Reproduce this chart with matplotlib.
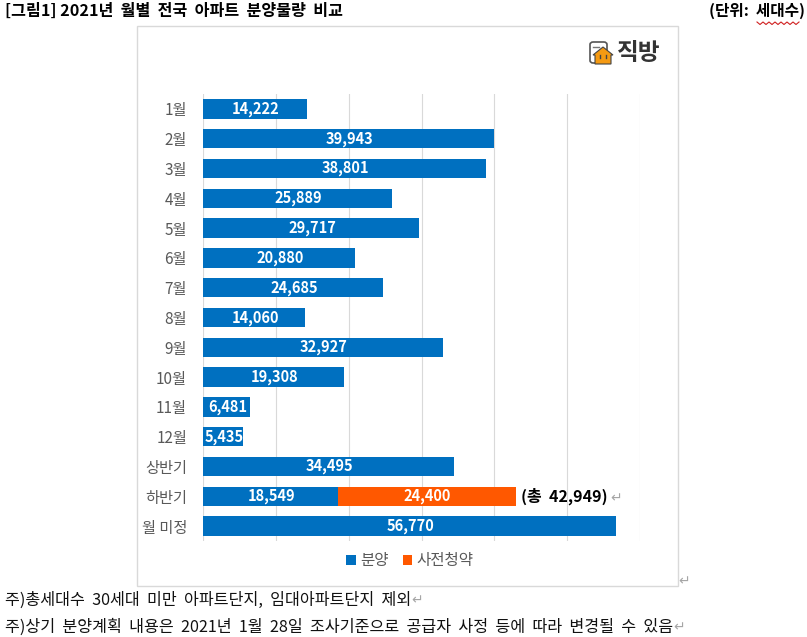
import matplotlib
matplotlib.use("Agg")
import matplotlib.pyplot as plt
from matplotlib.patches import FancyBboxPatch, Polygon, Rectangle

plt.rcParams["font.family"] = ["Noto Sans CJK KR", "DejaVu Sans"]

categories = ["1월", "2월", "3월", "4월", "5월", "6월", "7월", "8월", "9월", "10월",
              "11월", "12월", "상반기", "하반기", "월 미정"]
sale = [14222, 39943, 38801, 25889, 29717, 20880, 24685, 14060, 32927, 19308,
        6481, 5435, 34495, 18549, 56770]
pre_sale = [0, 0, 0, 0, 0, 0, 0, 0, 0, 0, 0, 0, 0, 24400, 0]
x_ticks = [0, 10000, 20000, 30000, 40000, 50000, 60000]
total_second_half = 42949

BLUE = "#0070C0"
ORANGE = "#FF5800"
W, H = 807, 637


def fx(px):
    return px / W


def fy(py):
    return 1 - py / H


fig = plt.figure(figsize=(W / 100, H / 100), dpi=100)

# chart frame, behind the axes
fig.add_artist(Rectangle((fx(137), fy(586)), 541 / W, 560 / H, transform=fig.transFigure,
                         facecolor="white", edgecolor="#D9D9D9", linewidth=1, zorder=-1))

ax = fig.add_axes([fx(203), fy(541), 437 / W, 447 / H])
ax.patch.set_alpha(0)
y = list(range(len(categories)))
ax.barh(y, sale, height=0.65, color=BLUE, label="분양", zorder=3)
ax.barh(y, pre_sale, height=0.65, left=sale, color=ORANGE, label="사전청약", zorder=3)

for i, v in enumerate(sale):
    ax.text(v / 2 + 150, i, f"{v:,}", color="white", fontsize=10.5, fontweight="bold",
            ha="center", va="center", zorder=4)
for i, v in enumerate(pre_sale):
    if v:
        ax.text(sale[i] + v / 2, i, f"{v:,}", color="white", fontsize=10.5, fontweight="bold",
                ha="center", va="center", zorder=4)
ax.text(sale[13] + pre_sale[13] + 650, 13, f"(총  {total_second_half:,})", color="black",
        fontsize=11.5, fontweight="bold", ha="left", va="center", zorder=4)

ax.set_xlim(0, 60000)
ax.set_ylim(len(categories) - 0.5, -0.5)
ax.set_xticks(x_ticks)
ax.set_xticklabels([])
ax.set_yticks(y)
ax.set_yticklabels(categories, fontsize=11, color="#595959")
ax.tick_params(axis="both", length=0, pad=11.5)
ax.grid(axis="x", color="#D9D9D9", linewidth=0.8, zorder=0)
for side in ax.spines:
    ax.spines[side].set_visible(False)

handles, labels = ax.get_legend_handles_labels()
fig.legend(handles, labels, loc="center", bbox_to_anchor=(fx(410), fy(561)), ncol=2, frameon=False,
           fontsize=11.2, labelcolor="#595959", handlelength=0.6, handleheight=0.6,
           handletextpad=0.3, columnspacing=0.9)

# texts around the chart
fig.text(fx(5), fy(11), "[그림1] 2021년  월별  전국  아파트  분양물량  비교", fontsize=11.6,
         fontweight="bold", va="center", ha="left")
fig.text(fx(805), fy(11), "(단위:  세대수)", fontsize=11.3, fontweight="bold", va="center", ha="right")
fig.add_artist(plt.Line2D([fx(757 + i * 3) for i in range(15)],
                          [fy(22 + (i % 2) * 2.5) for i in range(15)],
                          color="#D02020", linewidth=0.8))
fig.text(fx(5), fy(600), "주)총세대수  30세대  미만  아파트단지,  임대아파트단지  제외", fontsize=11.65,
         va="center", ha="left", color="#111111")
fig.text(fx(5), fy(627), "주)상기  분양계획  내용은  2021년  1월  28일  조사기준으로  공급자  사정  등에  따라  변경될  수  있음",
         fontsize=11.65, va="center", ha="left", color="#111111")
for px, py in [(616, 498), (684, 581), (417, 600), (679, 627)]:
    fig.text(fx(px), fy(py), "↵", fontsize=10, color="#A6A6A6", va="center", ha="center",
             family="DejaVu Sans")

# logo
fig.add_artist(FancyBboxPatch((fx(590), fy(63)), 17 / W, 21 / H, transform=fig.transFigure,
                              boxstyle="round,pad=0,rounding_size=0.004", facecolor="white",
                              edgecolor="#555555", linewidth=1.2))
fig.add_artist(Polygon([(fx(595), fy(64)), (fx(595), fy(55)), (fx(593), fy(55)), (fx(603), fy(47)),
                        (fx(613), fy(55)), (fx(611), fy(55)), (fx(611), fy(64))],
                       closed=True, transform=fig.transFigure, facecolor="#F59A12",
                       edgecolor="#444444", linewidth=0.8))
for px, py0, py1 in [(600, 55, 58), (606, 55, 58)]:
    fig.add_artist(plt.Line2D([fx(px), fx(px)], [fy(py0), fy(py1)], color="#444444", linewidth=1))
fig.add_artist(plt.Line2D([fx(593), fx(599)], [fy(47), fy(47)], color="#777777", linewidth=1))
fig.text(fx(639), fy(53), "직방", fontsize=17, fontweight="bold", color="#333333",
         va="center", ha="center")

fig.savefig("out.png", dpi=100)
